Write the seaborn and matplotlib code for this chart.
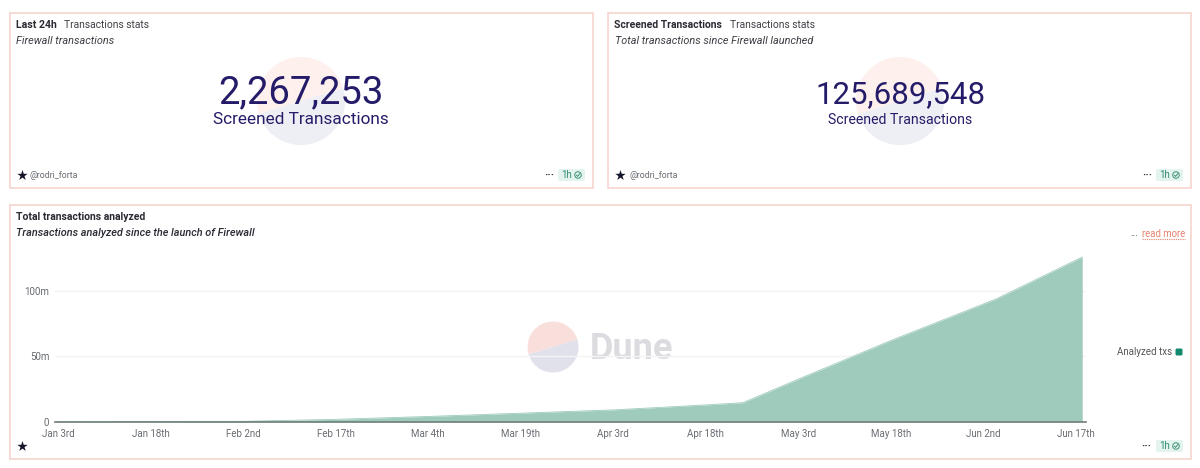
import matplotlib
matplotlib.use("Agg")
import matplotlib.pyplot as plt
from matplotlib.patches import Wedge, Rectangle, FancyBboxPatch
from matplotlib.ticker import FuncFormatter
import pandas as pd
import seaborn as sns

# ---- data ----
dates = ["2023-01-03", "2023-01-18", "2023-02-02", "2023-02-17", "2023-03-04", "2023-03-19",
         "2023-04-03", "2023-04-18", "2023-04-24", "2023-05-03", "2023-05-18", "2023-06-04", "2023-06-18"]
analyzed_m = [0.0, 0.05, 0.3, 1.8, 4.0, 6.5, 9.0, 12.8, 14.5, 32.5, 62.0, 93.6, 125.7]
tick_dates = ["2023-01-03", "2023-01-18", "2023-02-02", "2023-02-17", "2023-03-04", "2023-03-19",
              "2023-04-03", "2023-04-18", "2023-05-03", "2023-05-18", "2023-06-02", "2023-06-17"]
tick_labels = ["Jan 3rd", "Jan 18th", "Feb 2nd", "Feb 17th", "Mar 4th", "Mar 19th",
               "Apr 3rd", "Apr 18th", "May 3rd", "May 18th", "Jun 2nd", "Jun 17th"]
y_ticks = [0, 50, 100]
series_name = "Analyzed txs"
stat_left = "2,267,253"
stat_right = "125,689,548"
stat_label = "Screened Transactions"

W, H = 1200, 468
FONT = "Roboto"
sns.set_theme(style="white", rc={"font.family": FONT})
fig = plt.figure(figsize=(W / 100, H / 100), dpi=100, facecolor="white")

# page layer in pixel units, for cards and text
bg = fig.add_axes([0, 0, 1, 1], zorder=0)
bg.set_xlim(0, W)
bg.set_ylim(H, 0)
bg.axis("off")

BORDER = "#f6cfca"
for (x0, y0, x1, y1) in [(10, 13, 593, 188), (608, 13, 1191, 188), (10, 205, 1191, 459)]:
    bg.add_patch(Rectangle((x0, y0), x1 - x0, y1 - y0, fc="white", ec=BORDER, lw=1.1))


def pie(cx, cy, r, top, bottom, a=-17):
    # y axis is inverted: visually upper half has angles 180..360
    bg.add_patch(Wedge((cx, cy), r, 180 + a, 360 + a, fc=top, ec="none"))
    bg.add_patch(Wedge((cx, cy), r, a, 180 + a, fc=bottom, ec="none"))


pie(301, 101, 44, "#fdf0ed", "#eeeff5")
pie(900, 101, 44, "#fdf0ed", "#eeeff5")
pie(553, 347, 25.5, "#f8dfdc", "#e0e1ea")
bg.text(631.5, 349, "Dune", fontsize=26, fontweight="bold", color="#dcdce0", ha="center", va="center")

INK = "#241c68"
DARK = "#2a2a33"
GREY = "#666a70"
bg.text(301, 93, stat_left, fontsize=27.5, color=INK, ha="center", va="center")
bg.text(301, 119, stat_label, fontsize=12.4, color=INK, ha="center", va="center")
bg.text(900, 95, stat_right, fontsize=22.5, color=INK, ha="center", va="center")
bg.text(900, 120.5, stat_label, fontsize=10.2, color=INK, ha="center", va="center")

bg.text(16, 25, "Last 24h", fontsize=7.6, fontweight="bold", color=DARK, va="center")
bg.text(64, 25, "Transactions stats", fontsize=7.4, color="#3c3c44", va="center")
bg.text(16, 40.5, "Firewall transactions", fontsize=7.8, style="italic", color="#3c3c44", va="center")
bg.text(614, 25, "Screened Transactions", fontsize=7.5, fontweight="bold", color=DARK, va="center")
bg.text(730, 25, "Transactions stats", fontsize=7.4, color="#3c3c44", va="center")
bg.text(615, 40.5, "Total transactions since Firewall launched", fontsize=7.8, style="italic", color="#3c3c44", va="center")
bg.text(16, 217.5, "Total transactions analyzed", fontsize=7.5, fontweight="bold", color=DARK, va="center")
bg.text(16, 233.5, "Transactions analyzed since the launch of Firewall", fontsize=7.85, style="italic",
        fontweight="medium", color=DARK, va="center")

for sx, sy in [(22, 175), (620, 175), (22, 446)]:
    bg.scatter([sx], [sy], marker="*", s=62, color="#14142b", linewidths=0)
bg.text(30, 175, "@rodri_forta", fontsize=6.3, color=GREY, va="center")
bg.text(629, 175, "@rodri_forta", fontsize=6.3, color=GREY, va="center")


def badge(x0, y0, dots_x):
    bg.add_patch(FancyBboxPatch((x0 + 2, y0 + 2), 23, 8, boxstyle="round,pad=2", fc="#e3f4ee", ec="none"))
    bg.text(x0 + 3.5, y0 + 6, "1h", fontsize=7, color="#2d8a72", va="center")
    cx = x0 + 20
    bg.scatter([cx], [y0 + 6], s=22, fc="none", ec="#3d8f78", lw=0.7)
    bg.plot([cx - 1.6, cx - 0.4, cx + 1.8], [y0 + 6.1, y0 + 7.4, y0 + 4.6], color="#3d8f78", lw=0.7)
    bg.text(dots_x, y0 + 6, "\u00b7\u00b7\u00b7", fontsize=8, fontweight="bold", color="#333", ha="center", va="center")


badge(558, 169, 549)
badge(1156, 169, 1147)
badge(1156, 440, 1146)

bg.text(1134, 233, "...", fontsize=7.2, color="#444", ha="center", va="center")
bg.text(1163.5, 234, "read more", fontsize=6.9, color="#e8806c", ha="center", va="center")
bg.plot([1142, 1185], [239, 239], color="#e8806c", lw=0.8, ls=(0, (1, 1)))

bg.text(1172, 352, series_name, fontsize=7, color="#555", ha="right", va="center")
bg.add_patch(FancyBboxPatch((1177, 350), 4, 4, boxstyle="round,pad=1.5", fc="#12886f", ec="none"))

# chart layer: x 55..1086 px, y 240..421.7 px
L, R, T, B = 55, 1086, 240, 421.7
ax = fig.add_axes([L / W, 1 - B / H, (R - L) / W, (B - T) / H], zorder=1)
ax.patch.set_alpha(0)

df = pd.DataFrame({"date": pd.to_datetime(dates), series_name: analyzed_m})
AREA = "#9fcbbd"
ax.fill_between(df["date"], df[series_name], 0, color=AREA, lw=0, zorder=2)
sns.lineplot(data=df, x="date", y=series_name, ax=ax, color=AREA, lw=0.6, zorder=2, legend=False)

px_per_day = 6.17
t0 = pd.Timestamp(tick_dates[0])
ax.set_xlim(t0 - pd.Timedelta(days=3 / px_per_day), t0 + pd.Timedelta(days=(R - 58) / px_per_day))
ax.set_ylim(0, (B - T) / (65.5 / 50))
ax.set_xlabel("")
ax.set_ylabel("")
ax.set_xticks(pd.to_datetime(tick_dates))
ax.set_xticklabels(tick_labels)
ax.set_yticks(y_ticks)
ax.yaxis.set_major_formatter(FuncFormatter(lambda v, _: "0" if v == 0 else f"{v:.0f}m"))
ax.tick_params(axis="both", length=0, labelsize=7, labelcolor=GREY)
ax.tick_params(axis="x", pad=5)
ax.tick_params(axis="y", pad=4)
ax.grid(axis="y", color="#f4f4f5", lw=1, zorder=1)
ax.grid(axis="x", visible=False)
for s in ["top", "right", "left"]:
    ax.spines[s].set_visible(False)
ax.spines["bottom"].set_color("#6f7d7a")
ax.spines["bottom"].set_linewidth(1.2)
ax.set_axisbelow(True)

fig.savefig("out.png", dpi=100)
